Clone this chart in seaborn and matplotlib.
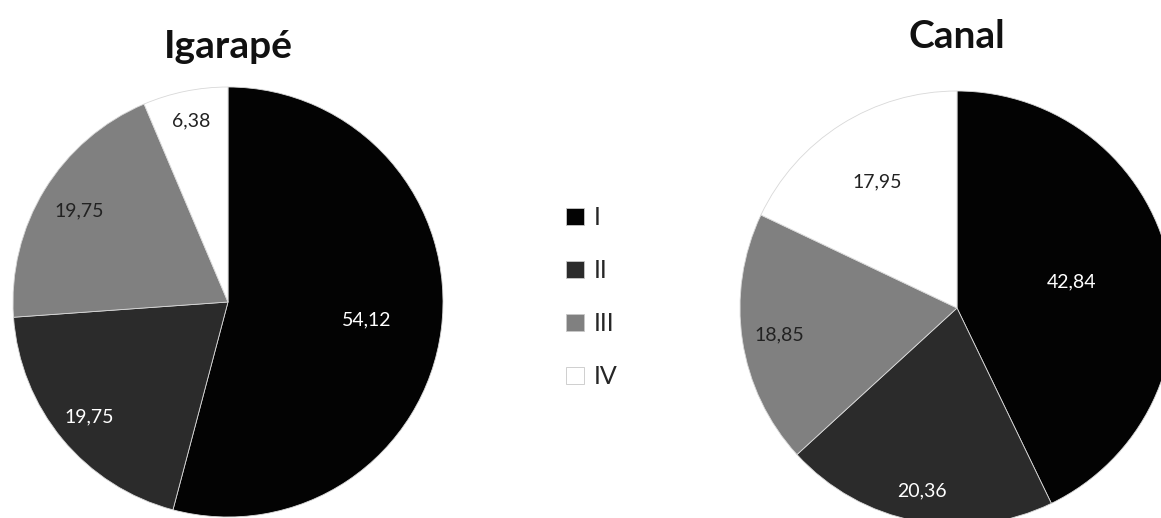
import numpy as np
import matplotlib
matplotlib.use('Agg')
import matplotlib.pyplot as plt
import seaborn as sns

# data
classes = ['I', 'II', 'III', 'IV']
igarape = [54.12, 19.75, 19.75, 6.38]
canal = [42.84, 20.36, 18.85, 17.95]
titles = ['Igarapé', 'Canal']

sns.set_theme(style='white')
plt.rcParams['font.family'] = ['Lato', 'DejaVu Sans']

colors = ['#030303', '#2b2b2b', '#808080', '#ffffff']
text_colors = ['white', 'white', '#222222', '#222222']


def fmt(v):
    return f'{v:.2f}'.replace('.', ',')


def draw_pie(ax, values, title, label_r, title_y):
    wedges, _ = ax.pie(values, colors=colors, startangle=90, counterclock=False,
                       radius=1, wedgeprops=dict(edgecolor='#d8d8d8', linewidth=0.6))
    for w, v, tc, r in zip(wedges, values, text_colors, label_r):
        ang = np.deg2rad((w.theta1 + w.theta2) / 2)
        ax.text(r * np.cos(ang), r * np.sin(ang), fmt(v), ha='center', va='center',
                color=tc, fontsize=14)
    ax.set_xlim(-1, 1)
    ax.set_ylim(-1, 1)
    ax.set_aspect('equal')
    ax.axis('off')
    ax.text(0, title_y, title, ha='center', va='center', fontsize=28, fontweight='bold',
            color='#111111', clip_on=False)
    return wedges


fig = plt.figure(figsize=(11.61, 5.18), dpi=100)
ax1 = fig.add_axes([13 / 1161, 1 / 518, 430 / 1161, 430 / 518])
ax2 = fig.add_axes([740 / 1161, -7 / 518, 434 / 1161, 434 / 518])

wedges = draw_pie(ax1, igarape, titles[0], [0.65, 0.84, 0.81, 0.86], 1.19)
draw_pie(ax2, canal, titles[1], [0.54, 0.86, 0.83, 0.69], 1.25)

leg = fig.legend(wedges, classes, loc='center', bbox_to_anchor=(592 / 1161, 1 - 297 / 518),
                 frameon=False, fontsize=18, labelspacing=1.2, handlelength=0.7,
                 handleheight=0.7, handletextpad=0.4)
for h in leg.legend_handles:
    h.set_edgecolor('#c8c8c8')

fig.savefig('out.png', dpi=100)
